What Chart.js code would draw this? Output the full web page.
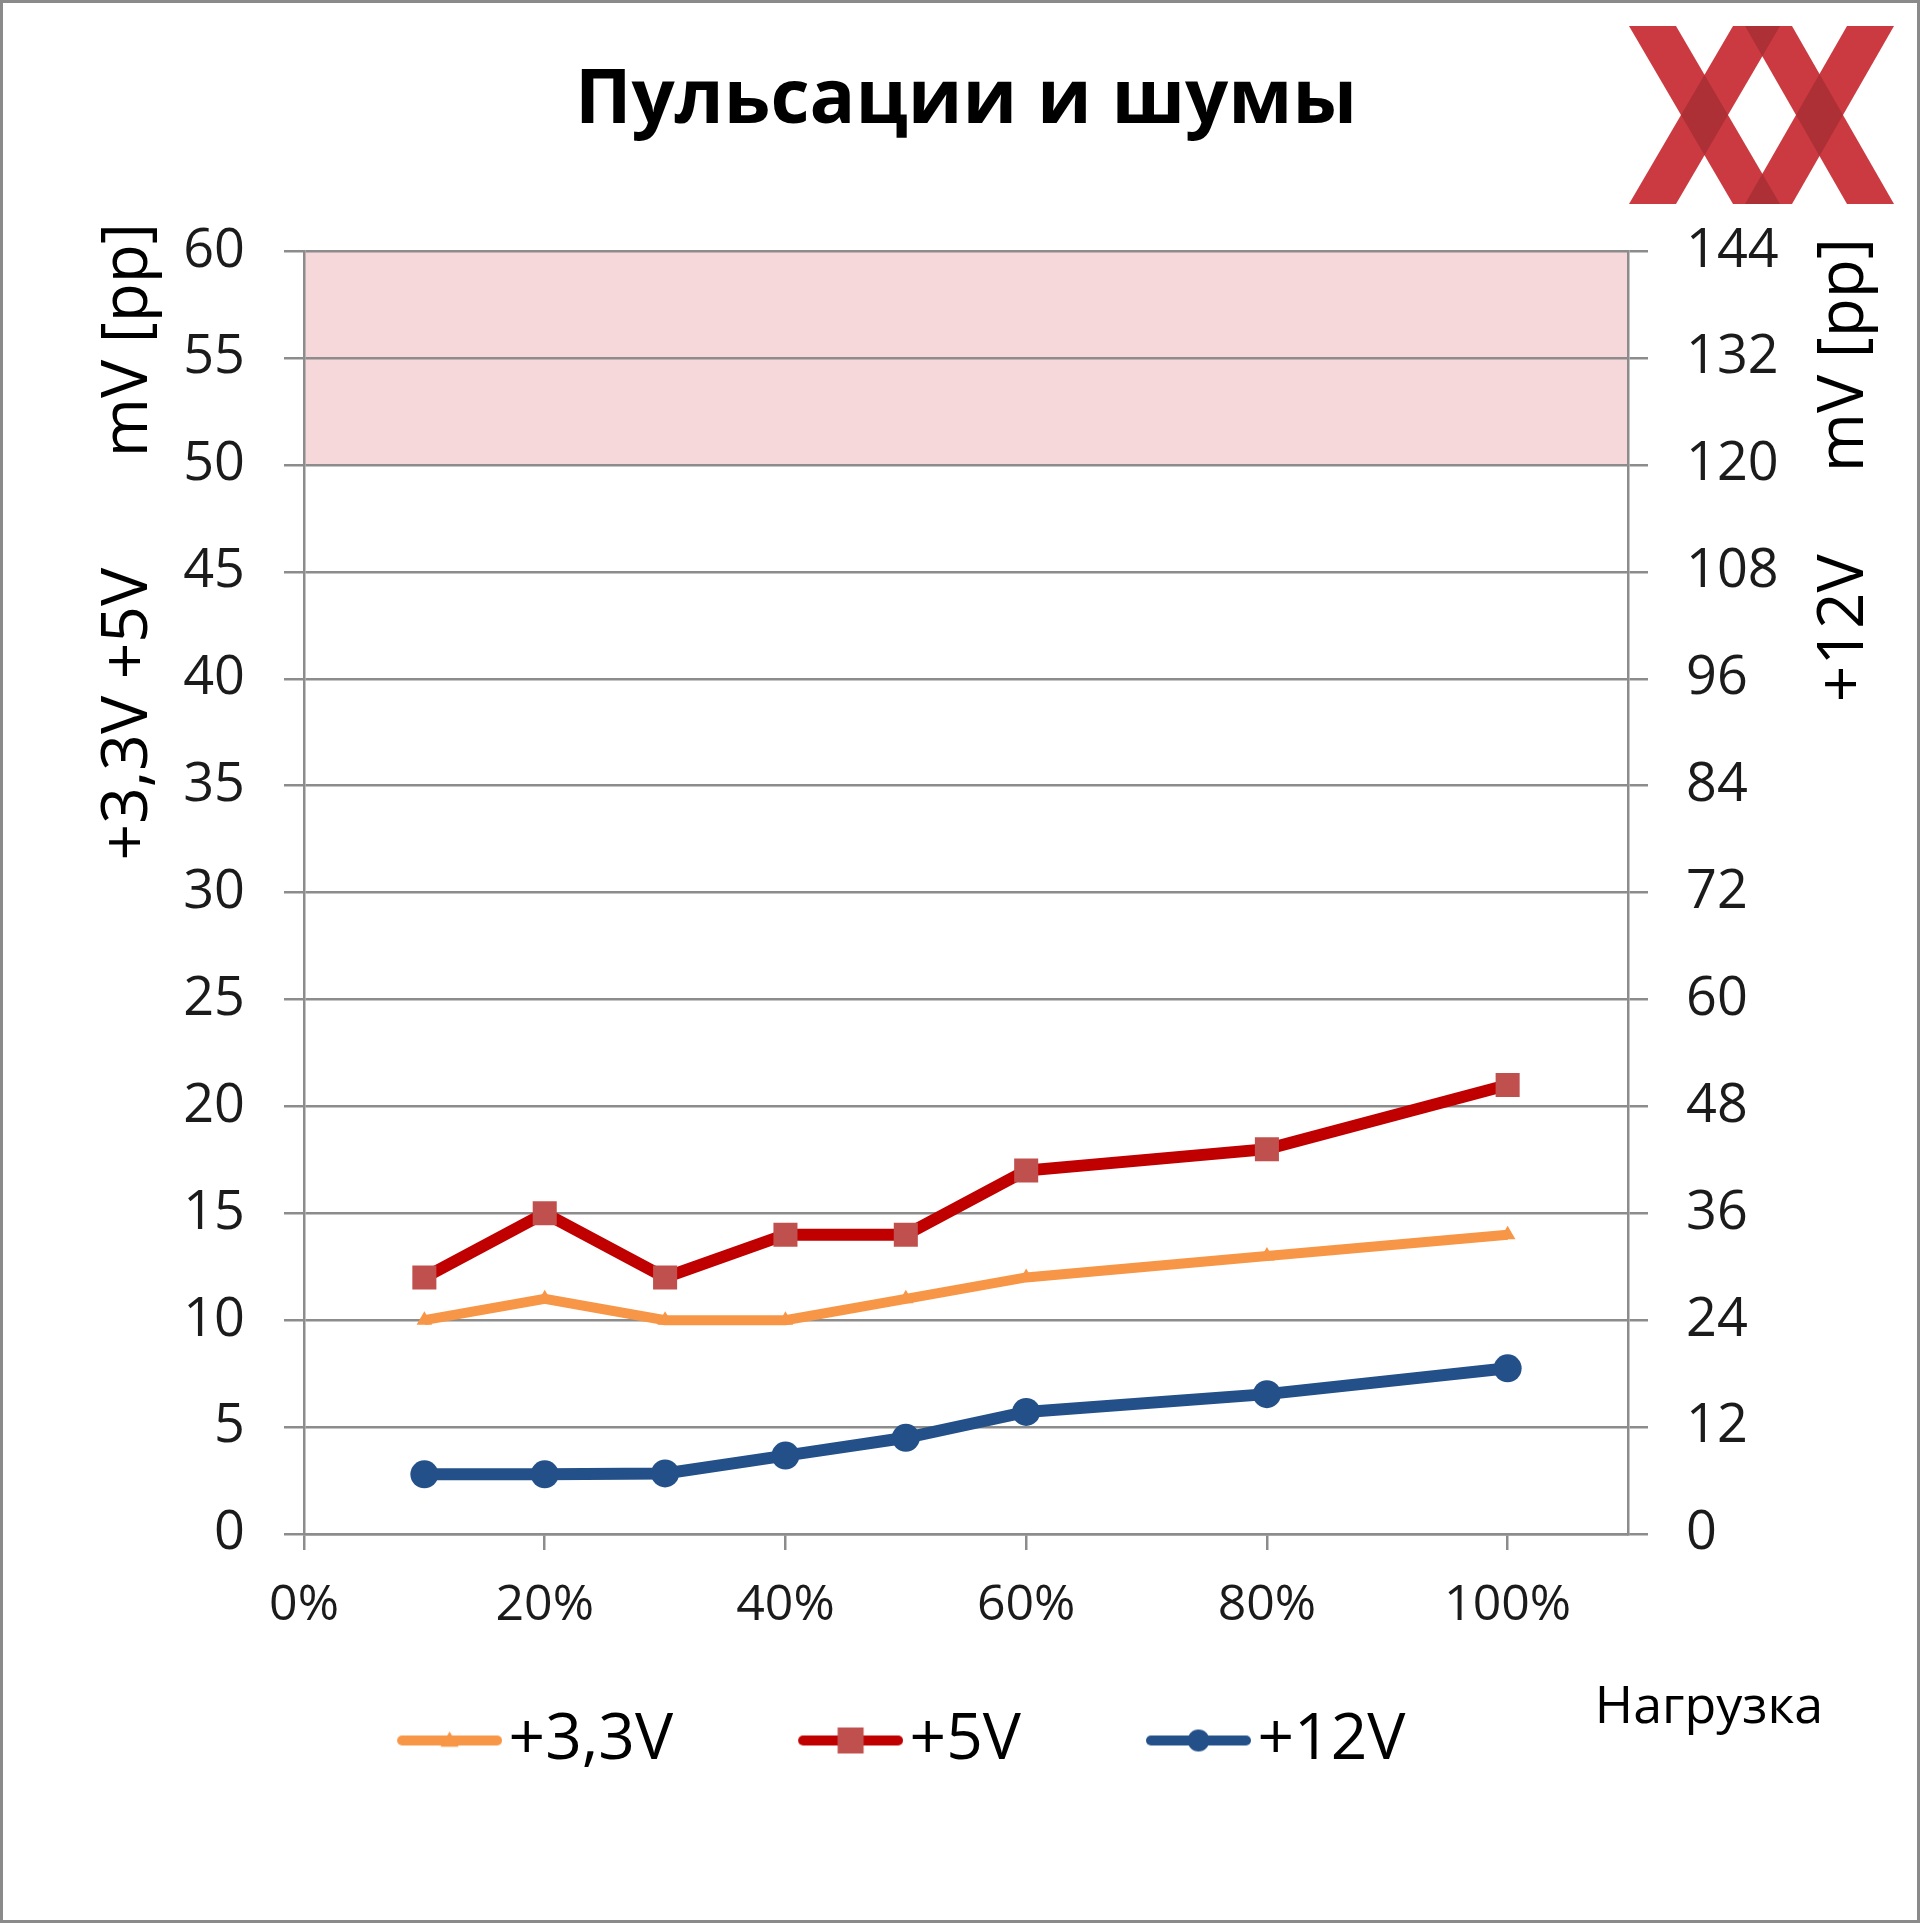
<!DOCTYPE html>
<html>
<head>
<meta charset="utf-8">
<script src="https://cdn.jsdelivr.net/npm/chart.js@4.4.0/dist/chart.umd.min.js"></script>
<style>
  html, body { margin: 0; padding: 0; background: #fff; }
  #wrap { position: relative; width: 1920px; height: 1923px; }
  #wrap canvas { position: absolute; left: 0; top: 0; }
  #frame { position: absolute; left: 0; top: 0; width: 1920px; height: 1923px; box-sizing: border-box; border: 3px solid #8a8a8a; pointer-events: none; }
</style>
</head>
<body>
<div id="wrap">
  <canvas id="rippleChart" width="1920" height="1923"></canvas>
  <div id="frame"></div>
</div>
<script>
// Данные: нагрузка (%) и пульсации (mV pp)
const loadPct = [10, 20, 30, 40, 50, 60, 80, 100];
const ripple33 = [10, 11, 10, 10, 11, 12, 13, 14];
const ripple5 = [12, 15, 12, 14, 14, 17, 18, 21];
const ripple12 = [6.7, 6.7, 6.8, 8.8, 10.8, 13.7, 15.7, 18.6];
const seriesNames = ["+3,3V", "+5V", "+12V"];

// Оси
const xRange = [0, 110];
const xStep = 20;
const leftRange = [0, 60];
const leftStep = 5;
const rightRange = [0, 144];
const rightStep = 12;
const limitBand = [50, 60]; // зона превышения нормы

const chartTitle = "Пульсации и шумы";
const leftTitle = ["+3,3V +5V", "mV [pp]"];
const rightTitle = ["+12V", "mV [pp]"];
const xTitle = "Нагрузка";

const orange = "#f79646";
const red = "#c00000";
const redMarker = "#c0504d";
const blue = "#24508a";
const gridGray = "#8c8c8c";
const textColor = "#1b1b1b";

Chart.defaults.font.family = "'Open Sans', sans-serif";

function points(values) {
  return loadPct.map(function(x, i) { return { x: x, y: values[i] }; });
}

// иконки легенды: линия с маркером
const iconLen = 105;
const iconGap = 54.5;           // отступ иконки от начала элемента
const iconBox = iconGap + 79.5; // pointStyleWidth
function legendIcon(lineColor, markColor, style, r) {
  const c = document.createElement("canvas");
  c.width = Math.round(2 * (iconGap + iconLen) - iconBox);
  c.height = 44;
  const off = c.width / 2 - iconBox / 2 + iconGap;
  const g = c.getContext("2d");
  g.strokeStyle = lineColor;
  g.lineWidth = 10;
  g.lineCap = "round";
  g.beginPath();
  g.moveTo(off + 5, 22);
  g.lineTo(off + iconLen - 5, 22);
  g.stroke();
  g.fillStyle = markColor;
  const cx = off + iconLen / 2, cy = 22;
  g.beginPath();
  if (style === "rect") {
    g.rect(cx - r, cy - r, 2 * r, 2 * r);
  } else if (style === "circle") {
    g.arc(cx, cy, r, 0, Math.PI * 2);
  } else {
    g.moveTo(cx, cy - r);
    g.lineTo(cx + r, cy + r * 0.7);
    g.lineTo(cx - r, cy + r * 0.7);
    g.closePath();
  }
  g.fill();
  return c;
}

const legendIcons = [
  legendIcon(orange, orange, "triangle", 9),
  legendIcon(red, redMarker, "rect", 13),
  legendIcon(blue, blue, "circle", 11)
];

function drawRotated(ctx, text, x, y) {
  ctx.save();
  ctx.translate(x, y);
  ctx.rotate(-Math.PI / 2);
  ctx.fillText(text, 0, 0);
  ctx.restore();
}

function stripePath(ctx, s) {
  const yt = 26, yb = 204, w = 47;
  const cols = [1629, 1733, 1745, 1847];
  ctx.beginPath();
  ctx.moveTo(cols[s[0]], yt);
  ctx.lineTo(cols[s[0]] + w, yt);
  ctx.lineTo(cols[s[1]] + w, yb);
  ctx.lineTo(cols[s[1]], yb);
  ctx.closePath();
}

const decorPlugin = {
  id: "decor",
  afterLayout(chart) {
    // сдвиг легенды влево, как в оригинале
    chart.legend.left -= 86;
    chart.legend.right -= 86;
  },
  beforeDraw(chart) {
    const ctx = chart.ctx;
    const area = chart.chartArea;
    const y = chart.scales.y;
    const top = y.getPixelForValue(limitBand[1]);
    const bottom = y.getPixelForValue(limitBand[0]);
    ctx.save();
    ctx.fillStyle = "#f6d7da";
    ctx.fillRect(area.left, top, area.right - area.left, bottom - top);
    ctx.restore();
  },
  afterDraw(chart) {
    const ctx = chart.ctx;
    const area = chart.chartArea;
    ctx.save();
    ctx.fillStyle = "#000";
    ctx.textAlign = "center";
    ctx.textBaseline = "middle";
    ctx.font = "64px 'Open Sans', sans-serif";
    drawRotated(ctx, leftTitle[1], 129, area.top + 89);
    drawRotated(ctx, leftTitle[0], 129, area.top + 463);
    drawRotated(ctx, rightTitle[1], 1845, area.top + 104);
    drawRotated(ctx, rightTitle[0], 1845, area.top + 377);
    ctx.font = "52px 'Open Sans', sans-serif";
    ctx.fillText(xTitle, 1709, 1708);
    ctx.restore();

    // логотип XX
    const stripes = [[0, 1], [1, 0], [2, 3], [3, 2]];
    ctx.save();
    ctx.fillStyle = "#cc3a41";
    stripes.forEach(function(s) { stripePath(ctx, s); ctx.fill(); });
    for (let i = 0; i < stripes.length; i++) {
      for (let j = i + 1; j < stripes.length; j++) {
        ctx.save();
        stripePath(ctx, stripes[i]);
        ctx.clip();
        stripePath(ctx, stripes[j]);
        ctx.fillStyle = "#ae3037";
        ctx.fill();
        ctx.restore();
      }
    }
    ctx.restore();
  }
};

new Chart(document.getElementById("rippleChart"), {
  type: "line",
  data: {
    datasets: [
      {
        label: seriesNames[0],
        data: points(ripple33),
        borderColor: orange,
        backgroundColor: orange,
        borderWidth: 10,
        pointStyle: "triangle",
        pointRadius: 9,
        pointBorderWidth: 0,
        yAxisID: "y"
      },
      {
        label: seriesNames[1],
        data: points(ripple5),
        borderColor: red,
        backgroundColor: redMarker,
        borderWidth: 12,
        pointStyle: "rect",
        pointRadius: 17,
        pointBorderWidth: 0,
        yAxisID: "y"
      },
      {
        label: seriesNames[2],
        data: points(ripple12),
        borderColor: blue,
        backgroundColor: blue,
        borderWidth: 12,
        pointStyle: "circle",
        pointRadius: 14,
        pointBorderWidth: 0,
        yAxisID: "y2"
      }
    ]
  },
  options: {
    responsive: false,
    animation: false,
    layout: { padding: { bottom: 140.5 } },
    plugins: {
      title: {
        display: true,
        text: chartTitle,
        fullSize: false,
        color: "#000",
        font: { size: 76, weight: "bold" },
        padding: { top: 56, bottom: 104 }
      },
      legend: {
        position: "bottom",
        labels: {
          usePointStyle: true,
          pointStyleWidth: iconBox,
          padding: 70.5,
          color: "#000",
          font: { size: 64 },
          generateLabels(chart) {
            return chart.data.datasets.map(function(ds, i) {
              return {
                text: ds.label,
                pointStyle: legendIcons[i],
                fillStyle: ds.borderColor,
                strokeStyle: ds.borderColor,
                lineWidth: 0,
                hidden: false,
                datasetIndex: i,
                fontColor: "#000"
              };
            });
          }
        }
      },
      tooltip: { enabled: false }
    },
    scales: {
      x: {
        type: "linear",
        min: xRange[0],
        max: xRange[1],
        afterFit(s) { s.height = 104; },
        ticks: {
          stepSize: xStep,
          includeBounds: false,
          padding: 26,
          color: textColor,
          font: { size: 50 },
          maxRotation: 0,
          callback: function(v) { return v + "%"; }
        },
        grid: { drawOnChartArea: false, tickLength: 16, color: gridGray, lineWidth: 2.5 },
        border: { color: gridGray, width: 2.5 }
      },
      y: {
        position: "left",
        min: leftRange[0],
        max: leftRange[1],
        afterFit(s) { s.width = 304; },
        ticks: { stepSize: leftStep, padding: 39, color: textColor, font: { size: 54 } },
        grid: { tickLength: 20, color: gridGray, lineWidth: 2.5 },
        border: { color: gridGray, width: 2.5 }
      },
      y2: {
        position: "right",
        min: rightRange[0],
        max: rightRange[1],
        afterFit(s) { s.width = 292; },
        ticks: { stepSize: rightStep, padding: 38, color: textColor, font: { size: 54 } },
        grid: { drawOnChartArea: false, tickLength: 20, color: gridGray, lineWidth: 2.5 },
        border: { color: gridGray, width: 2.5 }
      }
    }
  },
  plugins: [decorPlugin]
});
</script>
</body>
</html>
